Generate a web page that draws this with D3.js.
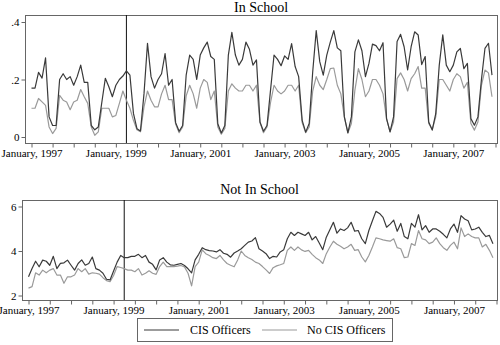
<!DOCTYPE html>
<html><head><meta charset="utf-8">
<script src="https://cdn.jsdelivr.net/npm/d3@7"></script>
<style>
html,body{margin:0;padding:0;background:#fff;}
text{font-family:"Liberation Serif","Times New Roman",serif;}
</style></head>
<body><svg id="c" width="500" height="345"></svg>
<script>
// Monthly series, January 1997 .. December 2007 (132 months)
const startYear = 1997;
const nMonths = 132;
const policyMonth = 27; // vertical reference line (April 1999)

const inSchoolCIS = [
0.17,0.17,0.225,0.205,0.275,0.07,0.04,0.04,0.2,0.22,0.2,0.21,
0.18,0.21,0.25,0.19,0.19,0.04,0.025,0.035,0.12,0.204,0.175,0.14,
0.18,0.2,0.212,0.23,0.215,0.082,0.029,0.021,0.15,0.326,0.21,0.17,
0.2,0.22,0.29,0.18,0.2,0.05,0.02,0.04,0.215,0.285,0.27,0.2,
0.285,0.31,0.33,0.28,0.27,0.046,0.014,0.04,0.285,0.364,0.285,0.25,
0.27,0.33,0.305,0.25,0.268,0.052,0.02,0.04,0.163,0.285,0.27,0.248,
0.282,0.27,0.325,0.245,0.21,0.058,0.017,0.047,0.227,0.37,0.262,0.215,
0.285,0.33,0.37,0.31,0.3,0.07,0.014,0.07,0.296,0.338,0.3,0.21,
0.256,0.323,0.318,0.3,0.328,0.064,0.018,0.07,0.332,0.357,0.314,0.233,
0.314,0.366,0.355,0.252,0.28,0.052,0.024,0.081,0.25,0.355,0.25,0.227,
0.25,0.296,0.308,0.238,0.256,0.064,0.041,0.07,0.2,0.308,0.326,0.215];

const inSchoolNoCIS = [
0.1,0.1,0.134,0.122,0.11,0.035,0.012,0.03,0.145,0.128,0.122,0.095,
0.122,0.128,0.165,0.14,0.117,0.035,0.006,0.018,0.1,0.1,0.1,0.07,
0.075,0.117,0.16,0.128,0.1,0.058,0.025,0.018,0.105,0.16,0.128,0.105,
0.105,0.15,0.18,0.13,0.13,0.045,0.015,0.035,0.143,0.18,0.15,0.1,
0.17,0.2,0.19,0.13,0.16,0.035,0.01,0.03,0.16,0.185,0.17,0.16,
0.16,0.18,0.18,0.16,0.18,0.05,0.015,0.035,0.12,0.18,0.16,0.15,
0.16,0.18,0.18,0.16,0.18,0.05,0.015,0.035,0.16,0.21,0.18,0.165,
0.2,0.238,0.24,0.18,0.15,0.07,0.014,0.047,0.163,0.238,0.2,0.14,
0.16,0.2,0.2,0.18,0.15,0.064,0.018,0.052,0.203,0.223,0.2,0.16,
0.203,0.22,0.245,0.17,0.17,0.047,0.026,0.07,0.2,0.2,0.18,0.16,
0.2,0.22,0.21,0.17,0.19,0.047,0.024,0.052,0.18,0.233,0.223,0.14];

const notInSchoolCIS = [
2.84,3.21,3.54,3.29,3.59,3.54,3.36,3.76,3.21,3.44,3.47,3.59,
3.36,3.14,3.44,3.6,3.36,3.44,3.73,3.21,3.14,3.0,2.73,2.7,
3.1,3.5,3.8,3.7,3.7,3.76,3.76,3.85,3.7,3.8,3.5,3.4,
3.15,3.6,3.7,3.5,3.38,3.36,3.4,3.44,3.35,3.2,3.02,3.6,
3.85,4.15,4.06,4.02,4.0,3.96,4.06,3.9,3.85,3.72,3.91,4.0,
4.1,4.25,4.4,4.45,4.6,4.1,4.0,3.88,3.66,3.76,3.73,3.96,
4.06,4.55,4.84,4.7,4.84,4.77,4.7,4.84,4.5,4.65,4.36,4.06,
4.62,4.95,5.29,4.8,4.99,4.92,5.04,5.29,4.89,4.92,4.55,4.33,
4.92,5.36,5.78,5.69,5.51,5.07,5.21,5.39,4.89,5.24,4.65,4.55,
5.24,5.07,5.63,4.95,5.14,4.84,4.99,4.99,4.89,4.75,4.59,4.99,
5.21,4.84,5.59,5.44,5.36,4.95,4.99,5.07,4.84,4.65,4.7,4.33];

const notInSchoolNoCIS = [
2.33,2.4,3.02,2.92,3.14,3.02,3.14,3.21,2.92,2.92,2.55,2.84,
2.84,2.92,3.21,3.07,3.21,2.96,3.02,3.0,2.96,2.8,2.67,2.62,
2.9,3.3,3.26,3.21,3.14,3.14,3.07,3.21,2.92,3.0,3.11,3.0,
2.95,3.3,3.5,3.3,3.3,3.3,3.32,3.35,3.28,3.0,2.43,3.3,
3.5,4.05,3.88,3.8,3.7,3.66,3.8,3.6,3.44,3.36,3.29,3.6,
4.0,3.8,3.7,3.62,3.5,3.44,3.3,3.15,2.99,3.25,3.33,3.38,
3.44,4.03,4.18,4.03,4.18,4.05,3.98,4.03,3.85,3.7,3.6,3.44,
3.88,4.18,4.44,4.3,4.21,4.1,4.18,4.3,4.03,4.06,3.73,3.51,
3.8,4.18,4.59,4.55,4.5,4.47,4.44,4.55,4.15,4.1,3.7,3.73,
4.33,4.25,4.92,4.55,4.5,4.33,4.4,4.59,4.33,4.15,4.03,4.25,
4.4,4.1,5.04,4.65,4.77,4.65,4.59,4.59,4.18,4.3,4.03,3.7];

const topTicksY = [0, 0.2, 0.4];
const botTicksY = [2, 4, 6];
const xMinorTicks = d3.range(0, nMonths + 1, 6);
const xLabelTicks = d3.range(0, nMonths, 24);
const seriesNames = ["CIS Officers", "No CIS Officers"];
const colors = ["#3a3a3a", "#9a9a9a"];

const svg = d3.select("#c");
const frameColor = "#666666";

function panel(cfg) {
  const g = svg.append("g");
  const x = d3.scaleLinear().domain([0, nMonths]).range(cfg.xr);
  const y = d3.scaleLinear().domain(cfg.ydom).range(cfg.yr);
  g.append("rect").attr("x", cfg.fx0 + 0.5).attr("y", cfg.fy0 + 0.5)
    .attr("width", cfg.fx1 - cfg.fx0).attr("height", cfg.fy1 - cfg.fy0)
    .attr("fill", "none").attr("stroke", frameColor).attr("stroke-width", 1);
  g.append("text").attr("x", (cfg.fx0 + cfg.fx1) / 2).attr("y", cfg.titleY)
    .attr("text-anchor", "middle").attr("font-size", 14).attr("fill", "#000").text(cfg.title);
  const ya = d3.axisLeft(y).tickValues(cfg.yticks).tickSize(4).tickPadding(2)
    .tickFormat(cfg.yfmt);
  const yg = g.append("g").attr("transform", `translate(${cfg.fx0 + 0.5},0)`).call(ya);
  yg.select(".domain").remove();
  yg.selectAll("line").attr("stroke", frameColor);
  yg.selectAll("text").attr("font-size", 11).attr("fill", "#000")
    .attr("font-family", "Liberation Serif, serif");
  const xa = d3.axisBottom(x).tickValues(xMinorTicks).tickSize(4).tickPadding(2)
    .tickFormat(d => xLabelTicks.includes(d) ? "January, " + (startYear + d / 12) : "");
  const xg = g.append("g").attr("transform", `translate(0,${cfg.fy1 + 0.5})`).call(xa);
  xg.select(".domain").remove();
  xg.selectAll("line").attr("stroke", frameColor);
  xg.selectAll("text").attr("font-size", 11).attr("fill", "#000")
    .attr("font-family", "Liberation Serif, serif");
  g.append("line").attr("x1", x(policyMonth)).attr("x2", x(policyMonth))
    .attr("y1", cfg.fy0).attr("y2", cfg.fy1).attr("stroke", "#111").attr("stroke-width", 1);
  const line = d3.line().x((d, i) => x(i)).y(d => y(d));
  [cfg.s2, cfg.s1].forEach((s, k) => {
    g.append("path").datum(s).attr("d", line).attr("fill", "none")
      .attr("stroke", k === 0 ? colors[1] : colors[0]).attr("stroke-width", 1.2)
      .attr("stroke-linejoin", "round");
  });
}

const fmtTop = d => d === 0 ? "0" : d3.format(".1f")(d).replace(/^0/, "");
panel({title: "In School", titleY: 12, fx0: 25, fx1: 497, fy0: 15, fy1: 143,
  xr: [31.5, 495.5], ydom: [0, 0.4], yr: [137, 22], yticks: topTicksY, yfmt: fmtTop,
  s1: inSchoolCIS, s2: inSchoolNoCIS});
panel({title: "Not In School", titleY: 194, fx0: 22, fx1: 497, fy0: 200, fy1: 300,
  xr: [28.5, 496.5], ydom: [2, 6], yr: [295.5, 206.5], yticks: botTicksY, yfmt: d3.format("d"),
  s1: notInSchoolCIS, s2: notInSchoolNoCIS});

const lg = svg.append("g");
lg.append("rect").attr("x", 137.5).attr("y", 318.5).attr("width", 255).attr("height", 23)
  .attr("fill", "#fff").attr("stroke", frameColor);
const legendItems = [
  {name: seriesNames[0], color: colors[0], x0: 144, x1: 179, tx: 190},
  {name: seriesNames[1], color: colors[1], x0: 262, x1: 297, tx: 307}
];
legendItems.forEach(it => {
  lg.append("line").attr("x1", it.x0).attr("x2", it.x1).attr("y1", 330).attr("y2", 330)
    .attr("stroke", it.color).attr("stroke-width", 1.2);
  lg.append("text").attr("x", it.tx).attr("y", 334).attr("font-size", 12).attr("fill", "#000").text(it.name);
});
</script></body></html>
